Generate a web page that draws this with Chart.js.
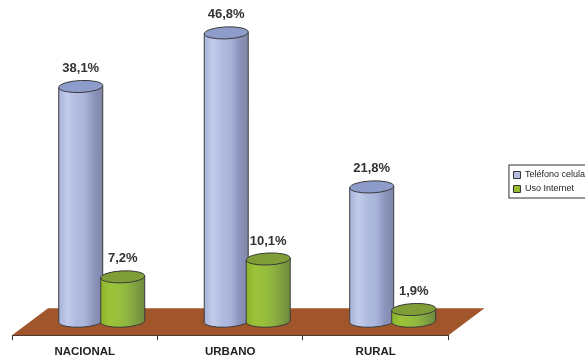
<!DOCTYPE html>
<html>
<head>
<meta charset="utf-8">
<script src="https://cdn.jsdelivr.net/npm/chart.js@4/dist/chart.umd.min.js"></script>
<style>
html,body{margin:0;padding:0;background:#fff;overflow:hidden;}
#wrap{width:585px;height:358px;overflow:hidden;}
canvas{display:block;filter:blur(0.45px);}
</style>
</head>
<body>
<div id="wrap"><canvas id="id_chart" width="598" height="364"></canvas></div>
<script>
var categories = ["NACIONAL", "URBANO", "RURAL"];
var series_names = ["Teléfono celular", "Uso Internet"];
var celular_values = [38.1, 46.8, 21.8];
var internet_values = [7.2, 10.1, 1.9];

var FONT = "'Liberation Sans', Arial, sans-serif";
var DEPTH_X = 17;   // 奥行き分だけ右にずらす
var RY = 6;

var blue_style = { fill:"#b4bde2", cap:"#8e9ccb", stops:["#a7b2da","#c2cbea","#b0bbe0","#a9b4da","#8b94bb","#7f86a8"] };
var green_style = { fill:"#94bc2c", cap:"#7f9e38", stops:["#8ab32b","#9cc238","#98bf3c","#8fb540","#7f9f40","#6e8a3c"] };

var drawCylinder = function( ctx, bar, style ){
	var w = bar.width + 2;
	var cx = bar.x + DEPTH_X;
	var rx = w / 2;
	var top = bar.y, base = bar.base;
	var tilt = -0.045;
	var i, g = ctx.createLinearGradient( cx - rx, 0, cx + rx, 0 );
	for( i=0; i<style.stops.length; i++ ){
		g.addColorStop( i / (style.stops.length-1), style.stops[i] );
	}
	ctx.save();
	ctx.strokeStyle = "#3a3a3a";
	ctx.lineWidth = 1;
	ctx.beginPath();
	ctx.moveTo( cx - rx, top + 1 );
	ctx.lineTo( cx - rx, base );
	ctx.ellipse( cx, base, rx, RY, tilt, Math.PI, 0, true );
	ctx.lineTo( cx + rx, top - 1 );
	ctx.closePath();
	ctx.fillStyle = g;
	ctx.fill();
	ctx.stroke();
	ctx.beginPath();
	ctx.ellipse( cx, top, rx, RY, tilt, 0, Math.PI*2 );
	ctx.fillStyle = style.cap;
	ctx.fill();
	ctx.stroke();
	ctx.restore();
};

var cylinderPlugin = {
	id: "cylinder",
	beforeDatasetsDraw: function( chart ){
		var ctx = chart.ctx, a = chart.chartArea;
		// 床
		ctx.save();
		ctx.beginPath();
		ctx.moveTo( a.left, a.bottom );
		ctx.lineTo( a.right, a.bottom );
		ctx.lineTo( a.right + 36, a.bottom - 27 );
		ctx.lineTo( a.left + 36, a.bottom - 27 );
		ctx.closePath();
		ctx.fillStyle = "#a0562a";
		ctx.fill();
		ctx.restore();
		// 棒は手前の系列が上に重なる順で描く
		chart.data.datasets.forEach(function( ds, n ){
			chart.getDatasetMeta(n).data.forEach(function( bar ){
				drawCylinder( ctx, bar, n == 0 ? blue_style : green_style );
			});
		});
	},
	beforeDatasetDraw: function(){
		return false;
	},
	afterDatasetsDraw: function( chart ){
		var ctx = chart.ctx;
		ctx.save();
		ctx.font = "bold 13px " + FONT;
		ctx.fillStyle = "#333333";
		ctx.textAlign = "center";
		ctx.textBaseline = "middle";
		chart.data.datasets.forEach(function( ds, n ){
			chart.getDatasetMeta(n).data.forEach(function( bar, i ){
				var label = ds.data[i].toFixed(1).replace(".", ",") + "%";
				ctx.fillText( label, bar.x + DEPTH_X, bar.y - 18 );
			});
		});
		ctx.restore();
	},
	afterDraw: function( chart ){
		// 凡例の枠。凡例の項目の位置から取る
		var ctx = chart.ctx, lg = chart.legend, boxes = lg.legendHitBoxes;
		var first = boxes[0], last = boxes[boxes.length-1];
		ctx.save();
		ctx.strokeStyle = "#333333";
		ctx.lineWidth = 1;
		ctx.strokeRect( lg.left + 0.5, first.top - 5.5, lg.width - 1, last.top + last.height - first.top + 10 );
		ctx.restore();
	}
};

var ctx = document.getElementById("id_chart").getContext("2d");
var myChart = new Chart(ctx, {
	type: "bar",
	plugins: [ cylinderPlugin ],
	data: {
		labels: categories,
		datasets: [
			{ label: series_names[0], data: celular_values, backgroundColor: blue_style.fill, borderColor: "#333", borderWidth: 1, barThickness: 42 },
			{ label: series_names[1], data: internet_values, backgroundColor: green_style.fill, borderColor: "#333", borderWidth: 1, barThickness: 42 }
		]
	},
	options: {
		responsive: false,
		animation: false,
		layout: { padding: { left: 12, right: 0, top: 0, bottom: 0 } },
		plugins: {
			tooltip: { enabled: false },
			legend: {
				position: "right",
				labels: { boxWidth: 7, boxHeight: 7, padding: 5, color: "#222", font: { size: 9, family: FONT } }
			}
		},
		scales: {
			x: {
				grid: { drawOnChartArea: false, color: "#333", tickLength: 5, tickWidth: 1 },
				border: { color: "#333" },
				ticks: { color: "#222", padding: 5, font: { size: 11.5, weight: "bold", family: FONT }, maxRotation: 0 }
			},
			y: {
				position: "right",
				min: -2.27,
				max: 52.14,
				grid: { display: false },
				border: { display: false },
				ticks: { display: false },
				afterFit: function( scale ){ scale.width = 60; }
			}
		}
	}
});
</script>
</body>
</html>
